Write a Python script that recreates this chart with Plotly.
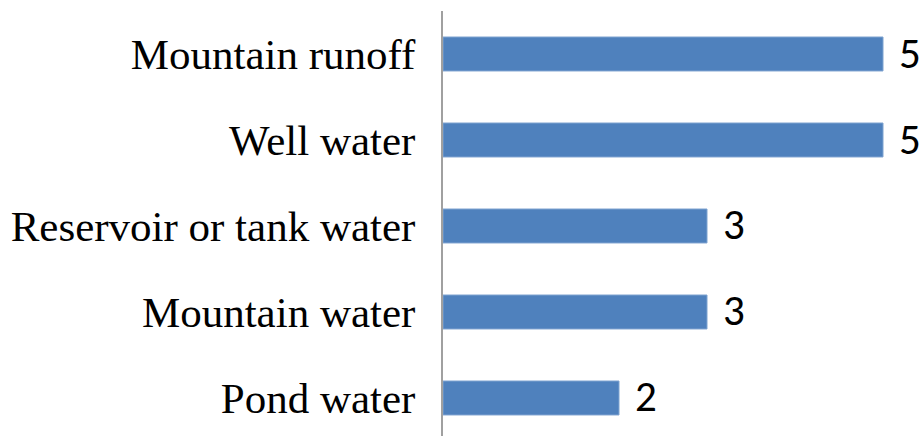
import plotly.graph_objects as go

categories = ["Mountain runoff", "Well water", "Reservoir or tank water", "Mountain water", "Pond water"]
values = [5, 5, 3, 3, 2]

cats = categories[::-1]
vals = values[::-1]

fig = go.Figure()
fig.add_trace(go.Bar(
    y=cats, x=vals, orientation="h",
    marker=dict(color="#4F81BD", line=dict(color="#7FA3D0", width=1)),
    width=0.395,
))

for c, v in zip(cats, vals):
    fig.add_annotation(x=v, y=c, text=str(v), showarrow=False,
                       xanchor="left", yanchor="middle", xshift=14, yshift=1,
                       font=dict(family="Carlito, Lato, 'Open Sans', sans-serif", size=43, color="#000000"))

fig.update_layout(
    width=922, height=436,
    margin=dict(l=443, r=4, t=11, b=0),
    paper_bgcolor="white", plot_bgcolor="white",
    showlegend=False,
    xaxis=dict(range=[0, 475/88], visible=False, fixedrange=True),
    yaxis=dict(range=[-0.442, 4.5], showline=True, linecolor="#A0A0A0", linewidth=2,
               showgrid=False, zeroline=False, ticks="", ticklabelstandoff=17,
               tickfont=dict(family="'Liberation Serif', 'Times New Roman', serif", size=43, color="#000000")),
)

fig.write_html("out.html")
